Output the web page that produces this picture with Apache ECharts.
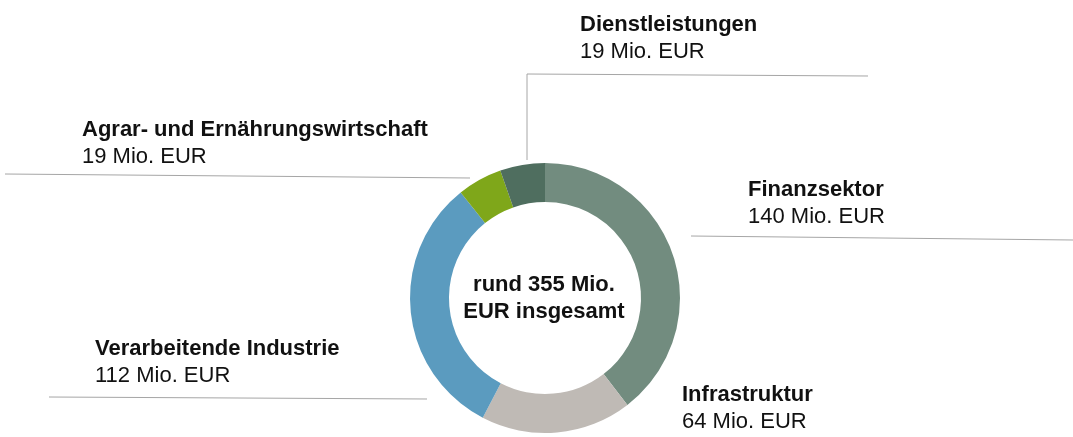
<!DOCTYPE html>
<html>
<head>
<meta charset="utf-8">
<script src="https://cdn.jsdelivr.net/npm/echarts@6/dist/echarts.min.js"></script>
<style>
  html, body { margin: 0; padding: 0; background: #ffffff; }
  #chart { width: 1073px; height: 437px; }
</style>
</head>
<body>
<div id="chart"></div>
<script>
// Sektoren im Uhrzeigersinn ab 12 Uhr
const sectors = ['Finanzsektor', 'Infrastruktur', 'Verarbeitende Industrie', 'Agrar- und Ernährungswirtschaft', 'Dienstleistungen'];
const amounts = [140, 64, 112, 19, 19];
const sectorColors = ['#728c7f', '#bfbab5', '#5b9bbf', '#7fa71a', '#4f6e5f'];
const totalText = 'rund 355 Mio.\nEUR insgesamt';

// Position der Beschriftungen (linke obere Ecke)
const labelPos = [
    [748, 176],
    [682, 381],
    [95, 335],
    [82, 116],
    [580, 11]
];

document.addEventListener('DOMContentLoaded', function() {
    const chart = echarts.init(document.getElementById('chart'));
    const lineColor = '#a6a6a6';

    const option = {
        backgroundColor: '#ffffff',
        animation: false,
        series: [{
            type: 'pie',
            center: [545, 298],
            radius: [96, 135],
            startAngle: 90,
            clockwise: true,
            silent: true,
            data: sectors.map((name, i) => ({
                name: name,
                value: amounts[i],
                itemStyle: { color: sectorColors[i] }
            })),
            label: {
                show: true,
                position: 'outside',
                formatter: '{t|{b}}\n{v|{c} Mio. EUR}',
                rich: {
                    t: {
                        fontFamily: 'Liberation Sans',
                        fontWeight: 'bold',
                        fontSize: 22,
                        lineHeight: 27,
                        color: '#111111'
                    },
                    v: {
                        fontFamily: 'Liberation Sans',
                        fontSize: 22,
                        lineHeight: 27,
                        color: '#111111'
                    }
                }
            },
            labelLine: { show: false },
            labelLayout: function(params) {
                const p = labelPos[params.dataIndex];
                return { x: p[0], y: p[1], align: 'left', verticalAlign: 'top' };
            }
        }],
        graphic: [
            {
                type: 'polyline',
                shape: { points: [[527, 160], [527, 74], [868, 76]] },
                style: { stroke: lineColor, lineWidth: 1, fill: null }
            },
            {
                type: 'line',
                shape: { x1: 5, y1: 174, x2: 470, y2: 178 },
                style: { stroke: lineColor, lineWidth: 1 }
            },
            {
                type: 'line',
                shape: { x1: 691, y1: 236, x2: 1073, y2: 240 },
                style: { stroke: lineColor, lineWidth: 1 }
            },
            {
                type: 'line',
                shape: { x1: 49, y1: 397, x2: 427, y2: 399 },
                style: { stroke: lineColor, lineWidth: 1 }
            },
            {
                type: 'text',
                x: 544,
                y: 298,
                style: {
                    text: totalText,
                    font: 'bold 22px "Liberation Sans"',
                    lineHeight: 27,
                    align: 'center',
                    verticalAlign: 'middle',
                    fill: '#111111'
                }
            }
        ]
    };

    chart.setOption(option);
});
</script>
</body>
</html>
